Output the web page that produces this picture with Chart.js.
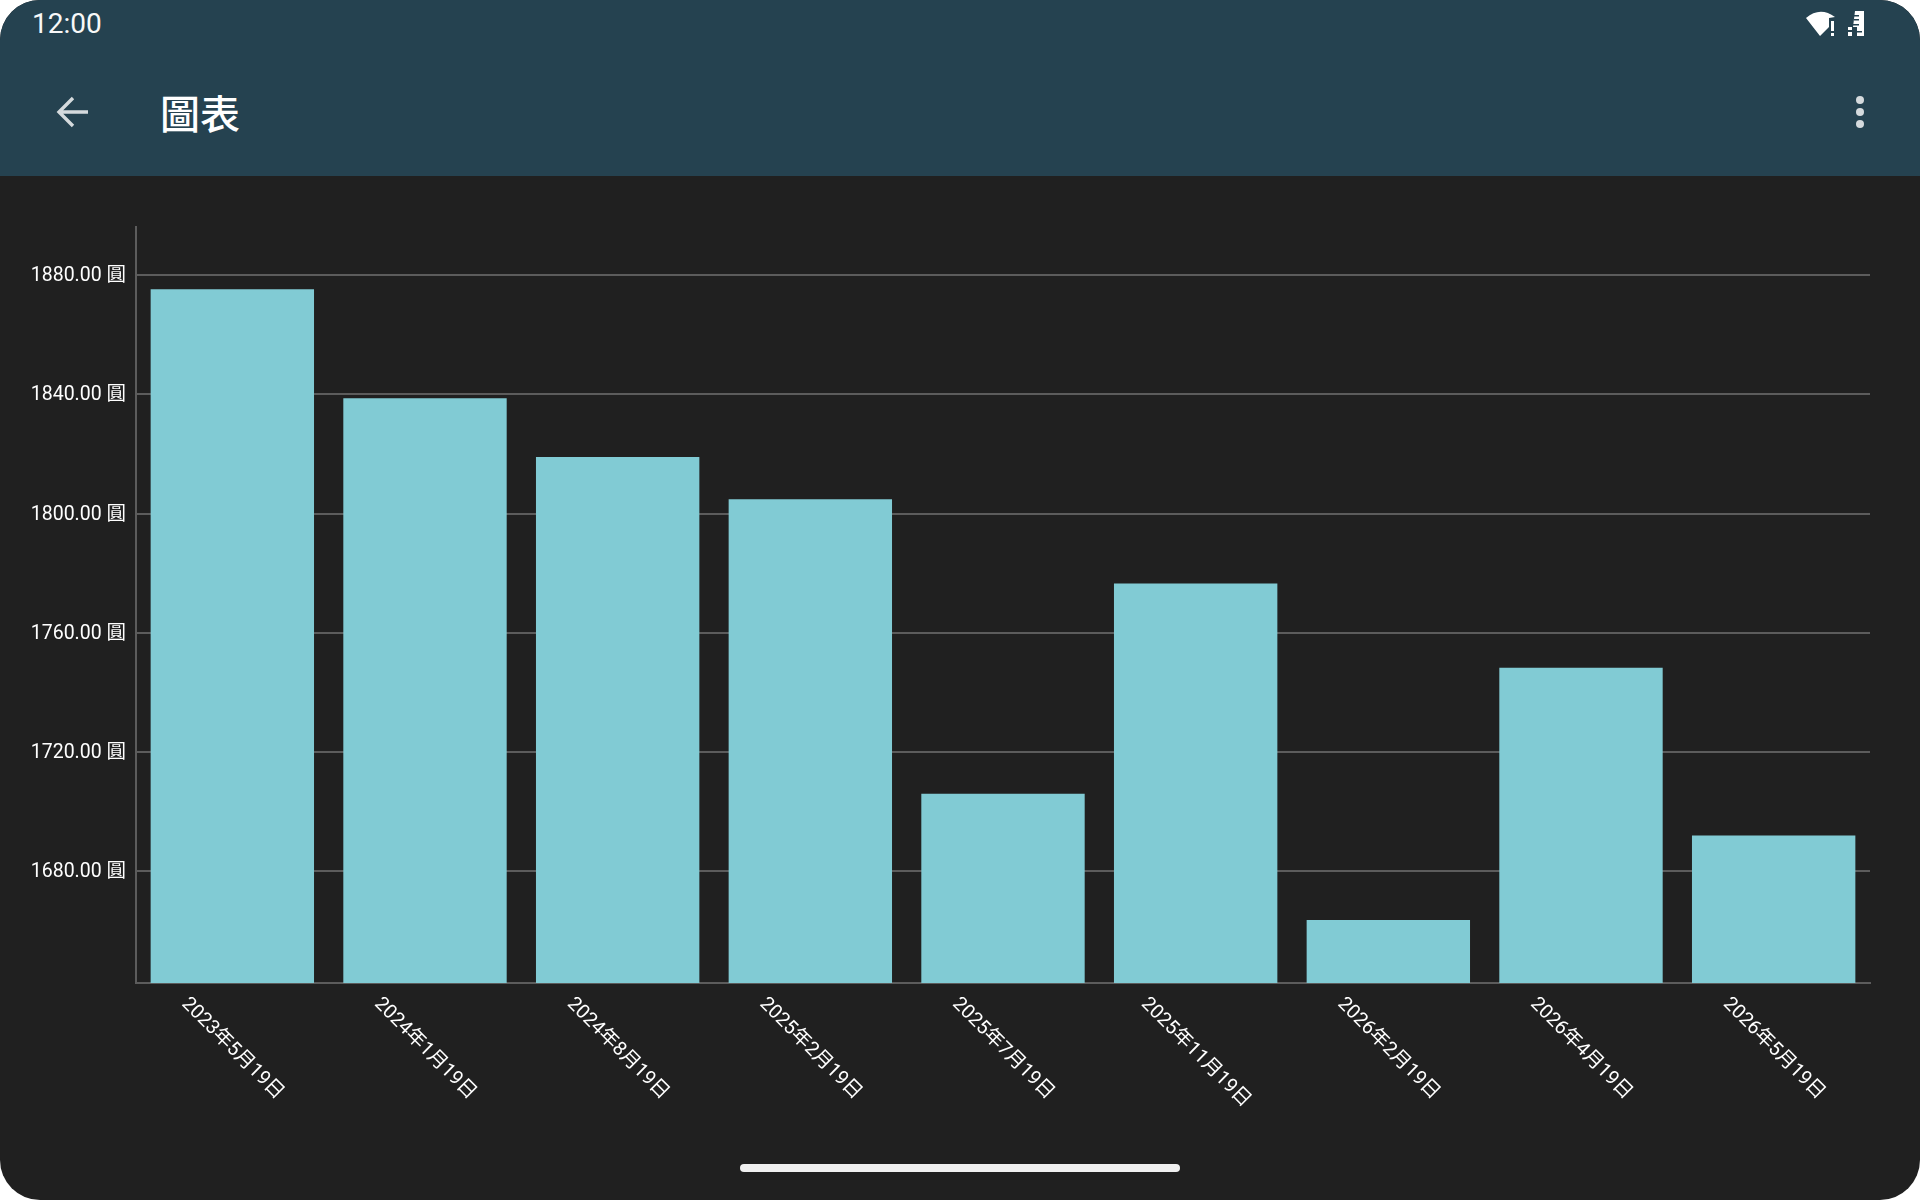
<!DOCTYPE html>
<html lang="zh-Hant">
<head>
<meta charset="utf-8">
<title>圖表</title>
<script src="https://cdn.jsdelivr.net/npm/chart.js@4"></script>
<style>
    html, body { margin: 0; padding: 0; background: #fff; }
    #screen {
        position: relative; width: 1920px; height: 1200px; overflow: hidden;
        background: #202020; border-radius: 40px;
        font-family: Roboto, "Noto Sans CJK TC", sans-serif; color: #f8f8f8;
    }
    #appbar { position: absolute; left: 0; top: 0; width: 1920px; height: 176px; background: #254250; }
    #clock { position: absolute; left: 32px; top: 7px; font-size: 28px; line-height: 33px; }
    #title {
        position: absolute; left: 160px; top: 88px; font-size: 40px; line-height: 48px;
        font-family: "Noto Sans CJK TC", sans-serif; font-weight: 500; color: #fff;
    }
    #icons { position: absolute; left: 0; top: 0; }
    #chartBox { position: absolute; left: 0; top: 176px; width: 1920px; height: 1024px; }
    #homebar { position: absolute; left: 740px; top: 1164px; width: 440px; height: 8px; border-radius: 4px; background: #f0f0f0; }
</style>
</head>
<body>
<div id="screen">
    <div id="appbar">
        <div id="clock">12:00</div>
        <div id="title">圖表</div>
        <svg id="icons" width="1920" height="176">
            <!-- back arrow -->
            <path d="M88 112H60M73 98L59 112L73 126" fill="none" stroke="#d5dadd" stroke-width="3.4"/>
            <!-- wifi with warning mark -->
            <path d="M1806 18Q1820 6 1835 17L1829 18V27L1820 36Z" fill="#fff"/>
            <rect x="1831" y="21" width="3" height="10" fill="#fff"/>
            <rect x="1831" y="33" width="3" height="3" fill="#fff"/>
            <!-- signal -->
            <g fill="#fff">
                <rect x="1848" y="27" width="4" height="3"/>
                <rect x="1848" y="32" width="4" height="4"/>
                <path d="M1853 27L1855 11H1864V36H1857V27Z"/>
            </g>
            <g fill="#254250">
                <rect x="1854" y="15" width="5" height="1.5"/>
                <rect x="1854" y="19" width="5" height="1.5"/>
                <rect x="1853" y="24" width="6" height="1.5"/>
                <rect x="1857" y="31" width="5" height="1.5"/>
            </g>
            <!-- overflow menu -->
            <g fill="#d5dadd">
                <circle cx="1860" cy="100" r="4"/>
                <circle cx="1860" cy="112" r="4"/>
                <circle cx="1860" cy="124" r="4"/>
            </g>
        </svg>
    </div>
    <div id="chartBox"><canvas id="barChart" width="1920" height="1024"></canvas></div>
    <div id="homebar"></div>
</div>

<script>
// Values
const dateLabels = ['2023年5月19日', '2024年1月19日', '2024年8月19日', '2025年2月19日', '2025年7月19日',
    '2025年11月19日', '2026年2月19日', '2026年4月19日', '2026年5月19日'];
const amounts = [1875.3, 1838.7, 1819, 1804.8, 1706, 1776.6, 1663.6, 1748.3, 1692];
const axisMin = 1642.5;
const axisMax = 1896.2;
const axisStep = 40;
const currencySuffix = ' 圓';

const labelFont = '19.5px Roboto, "Noto Sans CJK TC", sans-serif';
const labelColor = '#ffffff';
const gridColor = '#5c5c5c';

// Slanted date labels, centred under each bar with their tops lined up
const slantedLabels = {
    id: 'slantedLabels',
    afterDraw(chart) {
        const ctx = chart.ctx;
        const scale = chart.scales.x;
        const top = scale.bottom - scale.height + 11;
        const angle = Math.PI / 4;
        ctx.save();
        ctx.font = labelFont;
        ctx.fillStyle = labelColor;
        ctx.textAlign = 'center';
        ctx.textBaseline = 'middle';
        dateLabels.forEach((label, i) => {
            const w = ctx.measureText(label).width;
            const halfHeight = (w * Math.sin(angle) + 20 * Math.cos(angle)) / 2;
            ctx.save();
            ctx.translate(scale.getPixelForTick(i), top + halfHeight);
            ctx.rotate(angle);
            ctx.fillText(label, 0, 0);
            ctx.restore();
        });
        ctx.restore();
    }
};

new Chart(document.getElementById('barChart'), {
    type: 'bar',
    data: {
        labels: dateLabels,
        datasets: [{
            data: amounts,
            backgroundColor: '#81cbd4',
            borderWidth: 0,
            barPercentage: 1,
            categoryPercentage: 0.848
        }]
    },
    options: {
        responsive: false,
        devicePixelRatio: 1,
        animation: false,
        layout: { padding: { left: 0, right: 50, top: 51, bottom: 117 } },
        plugins: { legend: { display: false }, tooltip: { enabled: false } },
        scales: {
            x: {
                grid: { display: false },
                border: { color: gridColor, width: 2 },
                ticks: { display: false },
                afterFit(scale) { scale.height = 100; }
            },
            y: {
                min: axisMin,
                max: axisMax,
                grid: { color: gridColor, lineWidth: 2, drawTicks: false },
                border: { color: gridColor, width: 2 },
                ticks: {
                    stepSize: axisStep,
                    includeBounds: false,
                    padding: 10,
                    labelOffset: 1,
                    color: labelColor,
                    font: { family: 'Roboto, "Noto Sans CJK TC", sans-serif', size: 19.5 },
                    callback: value => value.toFixed(2) + currencySuffix
                },
                afterFit(scale) { scale.width = 136; }
            }
        }
    },
    plugins: [slantedLabels]
});
</script>
</body>
</html>
